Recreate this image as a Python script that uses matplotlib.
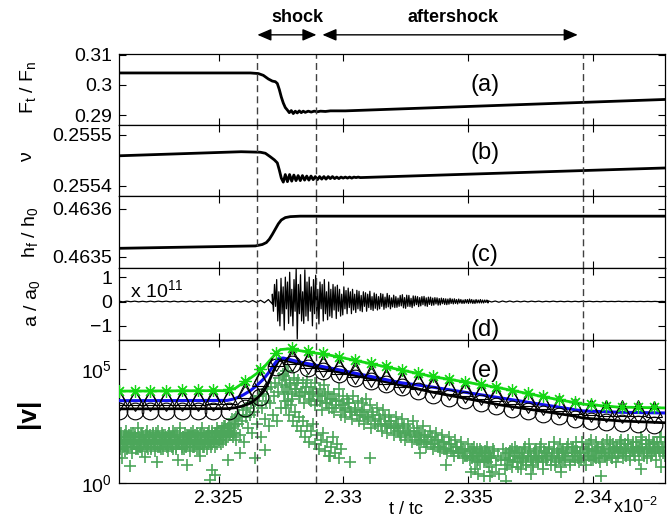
import numpy as np
import matplotlib.pyplot as plt

plt.rcParams['font.family'] = ['Liberation Sans', 'DejaVu Sans']
plt.rcParams['mathtext.fontset'] = 'custom'
plt.rcParams['mathtext.rm'] = 'Liberation Sans'
plt.rcParams['mathtext.it'] = 'Liberation Sans:italic'
plt.rcParams['mathtext.bf'] = 'Liberation Sans:bold'

# --- temps (unités de 1e-2 t/tc) ---
T_MIN, T_MAX = 2.3210, 2.3429
T_SHOCK = [2.32655, 2.32892]
T_AFTER_END = 2.33960
X_TICKS = [2.325, 2.33, 2.335, 2.34]
X_TICKLABELS = ['2.325', '2.33', '2.335', '2.34']

# --- (a) F_t / F_n ---
fric_t = [2.32100, 2.32627, 2.32659, 2.32679, 2.32699, 2.32715, 2.32727, 2.32735, 2.32743, 2.32751,
          2.32759, 2.32767, 2.32775, 2.32783, 2.32791, 2.32799, 2.32807, 2.32815, 2.32823, 2.32831,
          2.32839, 2.32847, 2.32859, 2.32871, 2.32883, 2.32896, 2.32908, 2.32928, 2.32948, 2.33008,
          2.34293]
fric_v = [0.3040, 0.3040, 0.3038, 0.3032, 0.3020, 0.3013, 0.3011, 0.3005, 0.2985, 0.2960,
          0.2940, 0.2925, 0.2917, 0.2908, 0.2915, 0.2905, 0.2913, 0.2907, 0.2914, 0.2908,
          0.2913, 0.2909, 0.2913, 0.2910, 0.2913, 0.2911, 0.2913, 0.2912, 0.2914, 0.2914,
          0.2952]

# --- (b) nu ---
nu_t = [2.32100, 2.32590, 2.32667, 2.32687, 2.32707, 2.32723, 2.32735, 2.32743, 2.32751, 2.32759]
nu_v = [0.255459, 0.255467, 0.255466, 0.255464, 0.255457, 0.255451, 0.255445, 0.255431, 0.255415, 0.255407]
nu_osc_range = (2.32767, 2.33068)
nu_osc = [0.255422, 0.255408, 0.255422, 0.255409, 0.255421, 0.255410, 0.255420, 0.255410, 0.255420, 0.255411,
          0.255419, 0.255411, 0.255419, 0.255412, 0.255418, 0.255412, 0.255418, 0.255413, 0.255418, 0.255413,
          0.255418, 0.255414, 0.255418, 0.255414, 0.255417, 0.255414, 0.255417, 0.255415, 0.255417, 0.255415,
          0.255417, 0.255415, 0.255417, 0.255416, 0.255417, 0.255416]
nu_end = (2.34293, 0.255435)

# --- (c) h_f / h_0 ---
h_t = [2.32100, 2.32647, 2.32675, 2.32691, 2.32703, 2.32715, 2.32727, 2.32739, 2.32751, 2.32767,
       2.32787, 2.32827, 2.34293]
h_v = [0.463518, 0.463523, 0.463526, 0.463530, 0.463537, 0.463547, 0.463558, 0.463569, 0.463577, 0.463582,
       0.463584, 0.463585, 0.463585]

# --- (d) a / a_0 (x 1e11) ---
acc_pre_range = (2.32100, 2.32715)
acc_pre = [0.015, -0.015, 0.015, -0.01, 0.015, -0.015, 0.01, -0.015, 0.015, -0.015,
           0.015, -0.01, 0.015, -0.015, 0.015, -0.015, 0.01, -0.015, 0.015, -0.015,
           0.015, -0.015, 0.015, -0.01, 0.015, -0.015, 0.015, -0.015, 0.02, -0.02,
           0.02, -0.02, 0.03, -0.03, 0.04, -0.04, 0.05, -0.05, 0.08, -0.1]
acc_burst_range = (2.32715, 2.33580)
acc_burst = [0.3, -0.4, 0.7, -0.2, 0.9, -0.8, 0.4, -1.0, 0.95, -0.5, 0.6, -1.17, 1.0, -0.3, 0.8, -0.9, 1.2, -0.6, 0.5, -1.0,
             0.9, -0.4, 1.33, -1.54, 0.7, -0.5, 1.1, -0.8, 0.4, -0.9, 1.3, -0.6, 0.8, -0.79, 1.0, -0.4, 0.6, -1.0, 0.9, -0.5,
             1.08, -0.7, 0.5, -0.92, 0.8, -0.3, 0.7, -0.8, 0.9, -0.5, 0.4, -0.75, 0.8, -0.6, 0.5, -0.66, 0.7, -0.35, 0.6, -0.7,
             0.67, -0.4, 0.5, -0.6, 0.3, -0.55, 0.6, -0.3, 0.45, -0.5, 0.55, -0.25, 0.4, -0.5, 0.5, -0.35, 0.3, -0.45, 0.46, -0.3,
             0.42, -0.38, 0.25, -0.42, 0.4, -0.2, 0.36, -0.4, 0.3, -0.25, 0.42, -0.33, 0.2, -0.37, 0.35, -0.28, 0.3, -0.35, 0.2, -0.3,
             0.33, -0.2, 0.3, -0.32, 0.18, -0.26, 0.33, -0.22, 0.25, -0.3, 0.15, -0.22, 0.26, -0.25, 0.2, -0.24, 0.14, -0.2, 0.25, -0.18,
             0.28, -0.26, 0.16, -0.28, 0.26, -0.2, 0.25, -0.21, 0.13, -0.25, 0.23, -0.18, 0.22, -0.13, 0.2, -0.21, 0.16, -0.18, 0.2, -0.13,
             0.21, -0.18, 0.15, -0.2, 0.18, -0.12, 0.18, -0.16, 0.14, -0.15, 0.16, -0.1, 0.15, -0.15, 0.12, -0.14, 0.14, -0.09, 0.12, -0.12,
             0.11, -0.13, 0.1, -0.11, 0.13, -0.08, 0.1, -0.1, 0.11, -0.08, 0.08, -0.1, 0.1, -0.06, 0.08, -0.08, 0.06, -0.08, 0.08, -0.06,
             0.08, -0.08, 0.1, -0.06, 0.08, -0.08, 0.06, -0.08, 0.08, -0.06, 0.06, -0.06, 0.08, -0.06, 0.06, -0.06, 0.06, -0.04, 0.06, -0.06]
acc_tail_range = (2.33580, 2.34293)
acc_tail = [0.03, -0.02, 0.02, -0.03, 0.02, -0.02, 0.02, -0.02, 0.015, -0.015,
            0.015, -0.015, 0.015, -0.01, 0.015, -0.015, 0.01, -0.01, 0.015, -0.01,
            0.01, -0.01, 0.01, -0.01, 0.01, -0.01, 0.01, -0.005, 0.01, -0.01,
            0.005, -0.01, 0.01, -0.005, 0.005, -0.005, 0.01, -0.005, 0.005, -0.005,
            0.005, -0.005, 0.005, -0.005, 0.005, -0.005, 0.005, -0.005, 0.005, -0.005]

# --- (e) |v| (log10) ---
green_t = [2.32100, 2.32526, 2.32566, 2.32598, 2.32627, 2.32655, 2.32679, 2.32699, 2.32723, 2.32747,
           2.32779, 2.32827, 2.32948, 2.33080, 2.33229, 2.33361, 2.33494, 2.33631, 2.33831, 2.33960,
           2.34100, 2.34293]
green_v = [4.03, 4.05, 4.15, 4.39, 4.6, 4.82, 5.05, 5.3, 5.6, 5.85,
           5.88, 5.8, 5.6, 5.3, 4.96, 4.66, 4.42, 4.16, 3.72, 3.46,
           3.33, 3.29]
blue_t = [2.32100, 2.32534, 2.32566, 2.32598, 2.32627, 2.32655, 2.32679, 2.32699, 2.32719, 2.32739,
          2.32759, 2.32827, 2.32988, 2.33229, 2.33349, 2.33631, 2.33960, 2.34112, 2.34293]
blue_v = [3.61, 3.62, 3.70, 3.86, 4.05, 4.3, 4.55, 4.82, 5.15, 5.45,
          5.48, 5.3, 4.95, 4.4, 4.22, 3.73, 3.16, 3.1, 3.07]
black_t = [2.32100, 2.32534, 2.32566, 2.32598, 2.32627, 2.32655, 2.32679, 2.32699, 2.32719, 2.32739,
           2.32759, 2.32827, 2.32988, 2.33229, 2.33349, 2.33631, 2.33924, 2.33960, 2.34112, 2.34293]
black_v = [3.25, 3.26, 3.3, 3.38, 3.5, 3.73, 4.0, 4.39, 4.9, 5.35,
           5.4, 5.22, 4.85, 4.3, 4.0, 3.42, 2.94, 2.85, 2.72, 2.64]

mark_range = (2.32100, 2.34244)
mark_star = [4.05, 4.05, 4.05, 4.05, 4.06, 4.06, 4.06, 4.12, 4.47, 4.98, 5.72, 5.9, 5.78, 5.68, 5.53, 5.4, 5.25, 5.11,
             4.97, 4.82, 4.68, 4.56, 4.45, 4.33, 4.21, 4.08, 3.94, 3.8, 3.67, 3.54, 3.45, 3.39, 3.34, 3.33, 3.32]
mark_tri = [3.79, 3.79, 3.79, 3.79, 3.79, 3.79, 3.8, 3.82, 4.08, 4.62, 5.5, 5.57, 5.41, 5.28, 5.14, 4.99, 4.85, 4.7,
            4.57, 4.48, 4.38, 4.27, 4.16, 4.05, 3.94, 3.83, 3.72, 3.61, 3.5, 3.39, 3.33, 3.31, 3.28, 3.27, 3.26]
mark_dia = [3.59, 3.59, 3.59, 3.59, 3.59, 3.59, 3.6, 3.62, 3.88, 4.42, 5.34, 5.37, 5.21, 5.08, 4.94, 4.79, 4.65, 4.5,
            4.37, 4.28, 4.18, 4.07, 3.96, 3.85, 3.74, 3.63, 3.52, 3.41, 3.3, 3.19, 3.13, 3.11, 3.08, 3.07, 3.06]
mark_circ = [3.15, 3.15, 3.15, 3.15, 3.15, 3.15, 3.16, 3.17, 3.31, 3.78, 5.07, 5.21, 5.05, 4.9, 4.76, 4.62, 4.47, 4.33,
             4.19, 4.03, 3.87, 3.74, 3.62, 3.49, 3.36, 3.25, 3.14, 3.03, 2.92, 2.81, 2.72, 2.66, 2.62, 2.59, 2.56]

# nuage de croix (log10 |v|), par segment de temps
cross_pre_range = (2.3210, 2.3256)
cross_pre = [1.9, 1.5, 2.2, 1.7, 2.0, 1.4, 2.3, 1.8, 1.6, 2.1, 1.9, 1.3, 2.2, 1.7, 2.0, 1.5, 2.4, 1.8, 1.6, 2.1,
             1.4, 2.0, 1.9, 1.7, 2.3, 1.5, 1.8, 2.1, 1.6, 2.2, 1.9, 1.4, 2.0, 1.7, 2.3, 1.6, 1.8, 2.2, 1.5, 1.9,
             2.1, 1.7, 1.4, 2.2, 1.8, 2.0, 1.6, 2.3, 1.9, 1.5, 2.1, 1.7, 1.8, 2.4, 1.6, 2.0, 1.5, 2.2, 1.9, 1.7,
             2.1, 1.4, 2.0, 1.8, 2.3, 1.6, 1.9, 2.2, 1.7, 1.5, 2.1, 1.9, 2.4, 1.6, 1.8, 2.0, 1.5, 2.2, 1.9, 1.7,
             2.3, 1.8, 2.0, 1.6, 2.2, 2.4, 1.9, 2.1, 1.7, 2.3, 2.0, 2.5, 1.9, 2.2, 2.4, 2.1, 2.6, 2.3, 2.0, 2.5]
cross_pre2_range = (2.32105, 2.32568)
cross_pre2 = [1.8, 2.0, 1.6, 1.9, 2.1, 1.7, 1.5, 2.0, 1.8, 2.2, 1.6, 1.9, 1.7, 2.1, 1.8, 1.5, 2.0, 1.9, 1.6, 2.2,
              1.7, 1.9, 2.1, 1.6, 1.8, 2.0, 1.5, 1.9, 2.1, 1.7, 1.8, 2.2, 1.6, 2.0, 1.9, 1.5, 1.7, 2.1, 1.8, 2.0,
              1.6, 1.9, 2.2, 1.7, 1.8, 1.5, 2.0, 2.1, 1.6, 1.9, 1.8, 2.2, 1.7, 1.5, 2.0, 1.9, 1.6, 2.1, 1.8, 2.0,
              1.7, 2.2, 1.6, 1.9, 2.1, 1.8, 1.5, 2.0, 1.7, 2.2, 1.9, 1.6, 2.1, 1.8, 2.0, 1.7, 2.3, 1.9, 1.6, 2.1,
              1.8, 2.2, 2.0, 1.7, 2.3, 1.9, 2.1, 2.4, 1.8, 2.2, 2.5, 2.0, 2.3, 2.6, 2.1, 2.4, 2.8, 2.2, 2.6, 2.9]
cross_rise_range = (2.3256, 2.3277)
cross_rise = [2.2, 2.8, 1.9, 2.6, 3.0, 2.1, 2.7, 3.2, 1.8, 2.9, 3.3, 2.4, 3.0, 3.5, 2.2, 3.1, 3.6, 2.6, 3.4, 3.8,
              2.0, 3.3, 3.9, 2.8, 3.6, 4.1, 2.5, 3.5, 4.2, 3.0, 3.8, 4.4, 2.7, 4.0, 4.6, 3.3, 4.3, 4.8, 3.6, 4.9]
cross_decay_range = (2.3276, 2.3360)
cross_decay = [4.7, 4.2, 4.9, 4.4, 3.9, 4.6, 4.1, 4.5, 3.8, 4.4, 4.0, 4.5, 3.7, 4.2, 3.9, 4.4, 3.6, 4.1, 3.8, 4.3,
               3.5, 4.0, 3.7, 3.3, 3.9, 3.6, 4.1, 3.4, 3.8, 3.2, 3.7, 3.5, 3.1, 3.8, 3.3, 3.6, 3.0, 3.5, 3.2, 3.7,
               2.9, 3.4, 3.1, 2.7, 3.3, 3.0, 2.6, 3.2, 2.9, 2.5, 3.0, 2.7, 2.4, 2.9, 2.6, 2.2, 2.8, 2.5, 2.1, 2.6,
               2.3, 2.7, 2.0, 2.4, 2.2, 1.9, 2.5, 2.1, 1.8, 2.3, 2.0, 1.7, 2.2, 1.9, 1.6, 2.1, 1.8, 1.5, 2.0, 1.7,
               1.4, 1.9, 1.6, 1.3, 1.8, 1.5, 1.2, 1.7, 1.4, 1.1, 1.6, 1.3, 1.0, 1.5, 1.2, 1.4, 0.9, 1.3, 1.1, 1.5]
cross_decay2_range = (2.32768, 2.33590)
cross_decay2 = [4.5, 4.0, 4.3, 3.7, 4.1, 4.4, 3.8, 4.0, 3.5, 4.2, 3.9, 3.6, 4.0, 3.4, 3.8, 3.6, 3.2, 3.9, 3.5, 3.3,
                3.7, 3.1, 3.4, 3.6, 3.0, 3.3, 2.9, 3.5, 3.1, 2.8, 3.2, 3.0, 2.7, 3.1, 2.6, 2.9, 2.8, 2.4, 3.0, 2.6,
                2.5, 2.8, 2.3, 2.6, 2.2, 2.7, 2.4, 2.1, 2.5, 2.3, 2.0, 2.4, 1.9, 2.2, 2.1, 1.8, 2.3, 1.9, 1.7, 2.1,
                1.8, 1.6, 2.0, 1.7, 1.5, 1.9, 1.6, 1.4, 1.8, 1.5, 1.3, 1.7, 1.4, 1.2, 1.6, 1.3, 1.5, 1.1, 1.4, 1.2,
                1.0, 1.5, 1.3, 0.9, 1.2, 1.4, 1.0, 1.3, 1.1, 1.2]
cross_fan_range = (2.3276, 2.3299)
cross_fan = [3.9, 3.3, 3.6, 3.0, 3.4, 2.7, 3.1, 2.5, 2.9, 2.3, 2.7, 2.0, 2.5, 1.8, 2.3, 2.6, 1.7, 2.1, 1.5, 1.9,
             2.2, 1.4, 1.8, 1.2, 1.6, 2.0, 1.3, 1.7, 1.1, 1.5]
cross_late_range = (2.3352, 2.3429)
cross_late = [1.2, 0.6, 1.5, 0.4, 0.9, 1.3, 0.3, 1.0, 1.6, 0.7, 1.1, 0.5, 1.4, 0.8, 1.2, 0.4, 1.0, 1.5, 0.6, 1.3,
              1.0, 1.4, 0.7, 1.2, 1.6, 0.9, 1.3, 0.6, 1.1, 1.5, 0.8, 1.2, 1.7, 1.0, 0.7, 1.4, 1.1, 0.9, 1.6, 1.2,
              0.6, 1.3, 1.0, 1.5, 0.8, 1.2, 1.8, 0.9, 1.4, 1.1, 0.7, 1.5, 1.0, 1.3, 1.7, 0.8, 1.2, 1.6, 1.0, 1.4,
              0.9, 1.3, 1.8, 1.1, 0.8, 1.5, 1.2, 1.9, 1.0, 1.4, 1.1, 1.6, 0.9, 1.3, 1.7, 1.2, 1.0, 1.5, 1.8, 1.1,
              1.4, 0.9, 1.6, 1.3, 1.9, 1.1, 1.5, 1.2, 1.7, 1.0, 1.4, 1.8, 1.2, 1.6, 1.0, 1.5, 1.9, 1.3, 1.7, 1.1,
              1.5, 1.2, 1.8, 1.4, 1.0, 1.6, 1.3, 2.0, 1.5, 1.2]
cross_late2_range = (2.3365, 2.3429)
cross_late2 = [1.1, 0.8, 1.3, 1.0, 1.5, 0.9, 1.2, 1.4, 0.7, 1.1, 1.3, 1.0, 1.6, 0.9, 1.2, 1.4, 1.1, 0.8, 1.3, 1.5,
               1.0, 1.2, 1.7, 0.9, 1.4, 1.1, 1.3, 1.6, 1.0, 1.2, 1.5, 0.8, 1.3, 1.1, 1.7, 1.4, 1.0, 1.2, 1.6, 1.3,
               0.9, 1.5, 1.2, 1.4, 1.8, 1.1, 1.3, 1.0, 1.6, 1.2, 1.5, 1.3, 1.7, 1.0, 1.4, 1.2, 1.8, 1.5, 1.1, 1.3,
               1.6, 1.4, 1.2, 1.9, 1.3, 1.5, 1.1, 1.7, 1.4, 1.6, 1.2, 1.8, 1.5, 1.3, 1.7, 1.4, 1.9, 1.2, 1.6, 1.5,
               1.3, 1.8, 1.4, 1.6, 2.0, 1.5, 1.2, 1.7, 1.4, 1.9, 1.6, 1.3, 1.8, 1.5, 1.7, 1.4, 2.0, 1.6, 1.3, 1.8]
cross_out_t = [2.32145, 2.32253, 2.32337, 2.32373, 2.32474, 2.32486, 2.32466, 2.32112, 2.32205, 2.32426,
               2.32538, 2.32586, 2.32647, 2.32687, 2.32948, 2.33028, 2.33108, 2.33309, 2.33410, 2.33510,
               2.33590, 2.33651, 2.33751, 2.33871, 2.34032, 2.34193, 2.34273]
cross_out_v = [0.75, 0.92, 1.0, 0.8, 0.57, 0.35, 0.13, 1.1, 1.15, 1.2,
               1.0, 1.3, 1.1, 1.45, 1.2, 0.9, 1.1, 1.3, 0.8, 0.5,
               0.3, 0.1, 0.4, 0.5, 0.3, 0.6, 0.7]

GREEN_LINE = '#14d814'
GREEN_CROSS = '#4ca65a'
BLUE = '#1212f0'
FS = 14


def seg(rng, vals):
    return np.linspace(rng[0], rng[1], len(vals)), np.asarray(vals)


fig = plt.figure(figsize=(6.71, 5.17), dpi=100)
L, W = 119 / 671, 546 / 671


def make_axes(top, bottom):
    return fig.add_axes([L, 1 - bottom / 517, W, (bottom - top) / 517])


ax_a = make_axes(54, 125)
ax_b = make_axes(125, 196)
ax_c = make_axes(196, 268)
ax_d = make_axes(268, 340)
ax_e = make_axes(340, 483)
axes = [ax_a, ax_b, ax_c, ax_d, ax_e]

# (a)
ax_a.plot(fric_t, fric_v, color='k', lw=2)
ax_a.set_ylim(0.2867, 0.3103)
ax_a.set_yticks([0.29, 0.30, 0.31])
ax_a.set_yticklabels(['0.29', '0.3', '0.31'])

# (b)
t_osc, v_osc = seg(nu_osc_range, nu_osc)
ax_b.plot(np.concatenate([nu_t, t_osc, [nu_end[0]]]),
          np.concatenate([nu_v, v_osc, [nu_end[1]]]), color='k', lw=2)
ax_b.set_ylim(0.2553797, 0.2555197)
ax_b.set_yticks([0.2554, 0.2555])
ax_b.set_yticklabels(['0.2554', '0.2555'])

# (c)
ax_c.plot(h_t, h_v, color='k', lw=2)
ax_c.set_ylim(0.463477, 0.463627)
ax_c.set_yticks([0.4635, 0.4636])
ax_c.set_yticklabels(['0.4635', '0.4636'])

# (d)
parts = [seg(acc_pre_range, acc_pre), seg(acc_burst_range, acc_burst), seg(acc_tail_range, acc_tail)]
ax_d.plot(np.concatenate([p[0] for p in parts]), np.concatenate([p[1] for p in parts]),
          color='k', lw=0.9)
ax_d.set_ylim(-1.58, 1.375)
ax_d.set_yticks([-1, 0, 1])
ax_d.set_yticklabels(['\u22121', '0', '1'])
ax_d.text(0.02, 0.69, r'x 10$^{11}$', transform=ax_d.transAxes, fontsize=FS, ha='left', va='center')

# (e)
for rng, vals in [(cross_pre_range, cross_pre), (cross_pre2_range, cross_pre2),
                  (cross_rise_range, cross_rise), (cross_decay_range, cross_decay),
                  (cross_decay2_range, cross_decay2), (cross_fan_range, cross_fan),
                  (cross_late_range, cross_late), (cross_late2_range, cross_late2)]:
    tt, vv = seg(rng, vals)
    ax_e.plot(tt, 10 ** vv, '+', color=GREEN_CROSS, ms=8, mew=1.2, zorder=1)
ax_e.plot(cross_out_t, 10 ** np.asarray(cross_out_v), '+', color=GREEN_CROSS, ms=8, mew=1.2, zorder=1)

ax_e.plot(black_t, 10 ** np.asarray(black_v), color='k', lw=2, zorder=3)
ax_e.plot(blue_t, 10 ** np.asarray(blue_v), color=BLUE, lw=2.2, zorder=3)
ax_e.plot(green_t, 10 ** np.asarray(green_v), color=GREEN_LINE, lw=2, zorder=3)
tm = np.linspace(mark_range[0], mark_range[1], len(mark_circ))
ax_e.plot(tm, 10 ** np.asarray(mark_circ), 'o', mfc='none', mec='k', ms=12, mew=0.8, zorder=4)
ax_e.plot(tm, 10 ** np.asarray(mark_dia), 'd', mfc='none', mec='k', ms=10, mew=0.8, zorder=4)
ax_e.plot(tm, 10 ** np.asarray(mark_tri), '^', mfc='none', mec='k', ms=11, mew=0.8, zorder=4)
ax_e.plot(tm, 10 ** np.asarray(mark_star), marker=(8, 2, 0), ls='none', color=GREEN_LINE,
          ms=9, mew=0.9, zorder=4)
ax_e.set_yscale('log')
ax_e.set_ylim(1, 10 ** 6.27)
ax_e.set_yticks([1, 1e5])
ax_e.set_yticklabels([r'10$^{0}$', r'10$^{5}$'])
ax_e.yaxis.set_minor_locator(plt.NullLocator())

for ax in axes:
    ax.set_xlim(T_MIN, T_MAX)
    ax.set_xticks(X_TICKS)
    ax.tick_params(direction='in', top=True, right=True, length=5, width=0.8,
                   labelsize=FS, pad=5)
    for s in ax.spines.values():
        s.set_linewidth(0.9)
    for tv in (T_SHOCK[0], T_SHOCK[1], T_AFTER_END):
        ax.axvline(tv, color='0.25', lw=1, ls=(0, (5, 3)), zorder=2)
    if ax is not ax_e:
        ax.set_xticklabels([])
ax_e.set_xticklabels(X_TICKLABELS)

# étiquettes de panneau
for ax, lab, y in [(ax_a, '(a)', 0.56), (ax_b, '(b)', 0.61), (ax_c, '(c)', 0.18),
                   (ax_d, '(d)', 0.14), (ax_e, '(e)', 0.78)]:
    ax.text(0.67, y, lab, transform=ax.transAxes, fontsize=17, ha='center', va='center')

# étiquettes des axes y (positions en pixels de la figure)
for txt, x, y, kw in [(r'F$_{\rm t}$ / F$_{\rm n}$', 28, 87, {}),
                      ('\u03bd', 28, 157, {}),
                      (r'h$_{\rm f}$ / h$_{\rm 0}$', 30, 232, {}),
                      (r'a / a$_{\rm 0}$', 32, 303, {}),
                      ('|v|', 28, 413, {'fontsize': 19, 'fontweight': 'bold'})]:
    opts = {'fontsize': FS}
    opts.update(kw)
    fig.text(x / 671, 1 - y / 517, txt, rotation=90, ha='center', va='center', **opts)

fig.text(406 / 671, 1 - 510 / 517, 't / tc', fontsize=13, ha='center', va='center')
fig.text(613 / 671, 1 - 507 / 517, r'x10$^{-2}$', fontsize=13, ha='left', va='center')

# flèches choc / post-choc
arrow = dict(arrowstyle='<|-|>,head_length=0.7,head_width=0.3', color='k', lw=1,
             shrinkA=0, shrinkB=0, mutation_scale=12)
ax_a.annotate('', xy=(T_SHOCK[1], 1.27), xytext=(T_SHOCK[0], 1.27),
              xycoords=('data', 'axes fraction'), textcoords=('data', 'axes fraction'),
              arrowprops=arrow, annotation_clip=False)
ax_a.annotate('', xy=(2.3394, 1.27), xytext=(2.32916, 1.27),
              xycoords=('data', 'axes fraction'), textcoords=('data', 'axes fraction'),
              arrowprops=arrow, annotation_clip=False)
ax_a.text(2.32815, 1.52, 'shock', transform=ax_a.get_xaxis_transform(), fontsize=13,
          fontweight='bold', ha='center', va='center')
ax_a.text(2.33438, 1.52, 'aftershock', transform=ax_a.get_xaxis_transform(), fontsize=13,
          fontweight='bold', ha='center', va='center')

fig.savefig('out.png', dpi=100)
